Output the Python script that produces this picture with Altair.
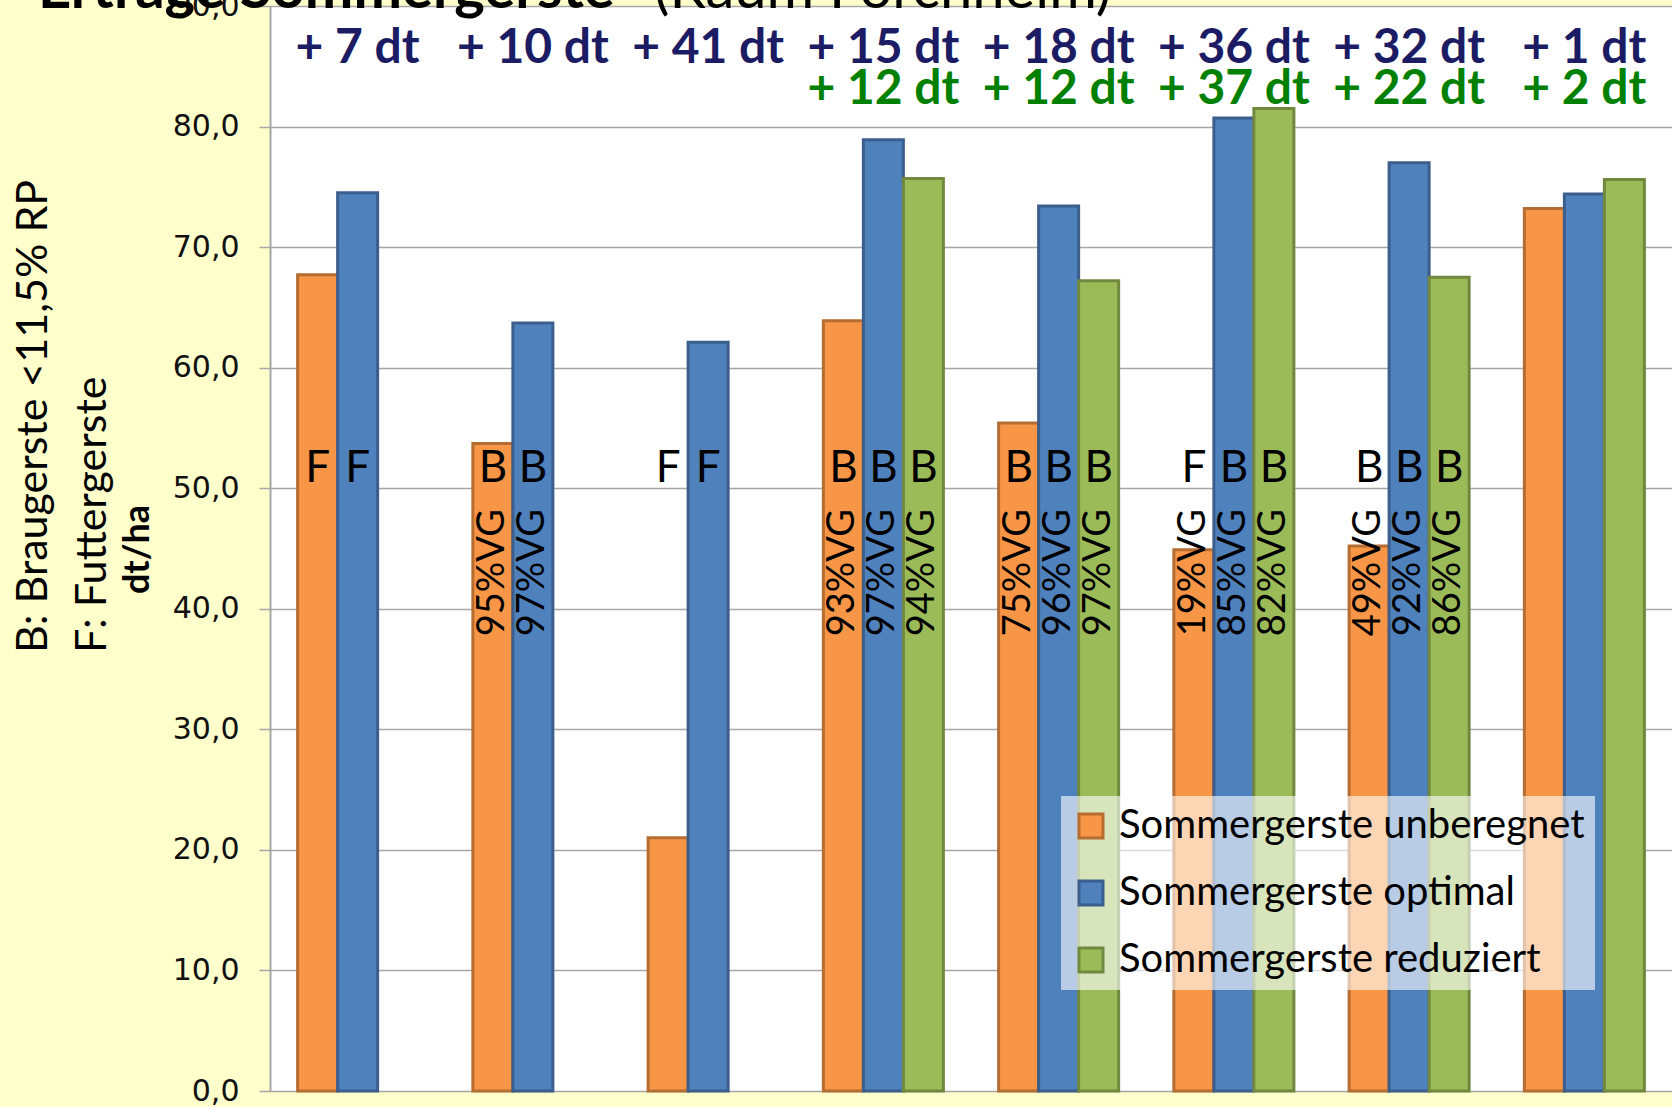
import altair as alt
import pandas as pd

# Yield of spring barley per site / treatment, dt/ha
groups = ["1", "2", "3", "4", "5", "6", "7", "8"]
series = ["Sommergerste unberegnet", "Sommergerste optimal", "Sommergerste reduziert"]

unberegnet = [67.7, 53.7, 21.0, 63.9, 55.4, 44.9, 45.2, 73.2]
optimal = [74.5, 63.7, 62.1, 78.9, 73.4, 80.7, 77.0, 74.4]
reduziert = [None, None, None, 75.7, 67.2, 81.5, 67.5, 75.6]

# quality class: B = Braugerste, F = Futtergerste
klasse_unberegnet = ["F", "B", "F", "B", "B", "F", "B", None]
klasse_optimal = ["F", "B", "F", "B", "B", "B", "B", None]
klasse_reduziert = [None, None, None, "B", "B", "B", "B", None]

vg_unberegnet = [None, "95%VG", None, "93%VG", "75%VG", "19%VG", "49%VG", None]
vg_optimal = [None, "97%VG", None, "97%VG", "96%VG", "85%VG", "92%VG", None]
vg_reduziert = [None, None, None, "94%VG", "97%VG", "82%VG", "86%VG", None]

fill_colors = ["#F79646", "#4F81BD", "#9BBB59"]
stroke_colors = ["#B66D31", "#3B5E8C", "#71893F"]

rows = []
for s, vals, kl, vg in zip(series,
                           [unberegnet, optimal, reduziert],
                           [klasse_unberegnet, klasse_optimal, klasse_reduziert],
                           [vg_unberegnet, vg_optimal, vg_reduziert]):
    for g, v, k, q in zip(groups, vals, kl, vg):
        rows.append({"group": g, "series": s, "value": v, "klasse": k, "vg": q})
df = pd.DataFrame(rows)
bars_df = df.dropna(subset=["value"])
klasse_df = df.dropna(subset=["klasse"])
vg_df = df.dropna(subset=["vg"])

# yield gain over the unirrigated variant
gain_opt = []
gain_red = []
for g, u, o, r in zip(groups, unberegnet, optimal, reduziert):
    gain_opt.append({"group": g, "label": f"+ {int(round(o - u))} dt"})
    if r is not None:
        gain_red.append({"group": g, "label": f"+ {int(round(r - u))} dt"})
gain_opt_df = pd.DataFrame(gain_opt)
gain_red_df = pd.DataFrame(gain_red)

FONT = "Lato"
GRAY = "#A6A6A6"

x_enc = alt.X("group:N", sort=groups,
              scale=alt.Scale(domain=groups, paddingInner=0.315, paddingOuter=0.1575),
              axis=None)
xoff_enc = alt.XOffset("series:N", scale=alt.Scale(domain=series, paddingInner=0, paddingOuter=0))
y_scale = alt.Scale(domain=[0, 90], nice=False, zero=True)

legend_cfg = alt.Legend(
    orient="none", legendX=791, legendY=790, title=None,
    fillColor="rgba(255,255,255,0.6)", padding=10, rowPadding=27,
    symbolType="square", symbolSize=576, symbolStrokeWidth=3,
    labelFont=FONT, labelFontSize=40, labelColor="black", labelOffset=8,
    labelLimit=1000,
)

bars = alt.Chart(bars_df).mark_bar(strokeWidth=3).encode(
    x=alt.X("group:N", sort=groups,
            scale=alt.Scale(domain=groups, paddingInner=0.315, paddingOuter=0.1575),
            axis=alt.Axis(title=None, labels=False, ticks=True, tickBand="extent",
                          tickSize=11, tickColor=GRAY, tickWidth=1.5,
                          domainColor=GRAY, domainWidth=2, grid=False)),
    xOffset=xoff_enc,
    y=alt.Y("value:Q", scale=y_scale,
            axis=alt.Axis(values=list(range(0, 91, 10)),
                          labelExpr="replace(format(datum.value, '.1f'), '.', ',')",
                          labelFont="DejaVu Sans", labelFontSize=30, labelColor="#111111",
                          labelPadding=20, tickSize=11, tickColor=GRAY, tickWidth=1.5,
                          domainColor=GRAY, domainWidth=2,
                          grid=True, gridColor=GRAY, gridWidth=1.5,
                          title="dt/ha", titleFont=FONT, titleFontSize=36,
                          titleFontWeight="bold", titleColor="black",
                          titleAngle=270, titleAlign="center", titleBaseline="middle",
                          titleX=-133, titleY=543)),
    fill=alt.Fill("series:N", scale=alt.Scale(domain=series, range=fill_colors), legend=legend_cfg),
    stroke=alt.Stroke("series:N", scale=alt.Scale(domain=series, range=stroke_colors), legend=legend_cfg),
)

klasse_text = alt.Chart(klasse_df).mark_text(
    font=FONT, fontSize=44, color="black", baseline="middle", align="center"
).encode(
    x=x_enc, xOffset=xoff_enc,
    y=alt.datum(51.6, scale=y_scale),
    text="klasse:N",
)

vg_text = alt.Chart(vg_df).mark_text(
    font=FONT, fontSize=38, color="black", baseline="middle", align="center", angle=270
).encode(
    x=x_enc, xOffset=xoff_enc,
    y=alt.datum(43.0, scale=y_scale),
    text="vg:N",
)

gain_opt_text = alt.Chart(gain_opt_df).mark_text(
    font=FONT, fontSize=48, fontWeight="bold", color="#1C1C64", baseline="middle"
).encode(
    x=x_enc, y=alt.datum(86.4, scale=y_scale), text="label:N",
)

gain_red_text = alt.Chart(gain_red_df).mark_text(
    font=FONT, fontSize=48, fontWeight="bold", color="#008000", baseline="middle"
).encode(
    x=x_enc, y=alt.datum(83.0, scale=y_scale), text="label:N",
)

side_df = pd.DataFrame({"t": ["B: Braugerste <11,5% RP", "F: Futtergerste"], "px": [-236, -177]})
side_text = alt.Chart(side_df).mark_text(
    font=FONT, fontSize=43, color="black", angle=270, align="left", baseline="middle"
).encode(
    x=alt.X("px:Q", scale=None), y=alt.value(647), text="t:N",
)

title_bold = alt.Chart(pd.DataFrame({"t": ["Erträge Sommergerste"]})).mark_text(
    font=FONT, fontSize=58, fontWeight="bold", color="black", align="left", baseline="alphabetic"
).encode(x=alt.value(-232), y=alt.value(2), text="t:N")

title_reg = alt.Chart(pd.DataFrame({"t": ["(Raum Forchheim)"]})).mark_text(
    font=FONT, fontSize=58, color="black", align="left", baseline="alphabetic"
).encode(x=alt.value(384), y=alt.value(2), text="t:N")

chart = alt.layer(
    bars, klasse_text, vg_text, gain_opt_text, gain_red_text, side_text, title_bold, title_reg
).properties(
    width=1402, height=1085,
    autosize=alt.AutoSizeParams(type="none"),
    padding={"left": 270, "top": 6, "right": 0, "bottom": 16},
    background="#FFFFCC",
).configure_view(fill="white", stroke=None)

chart.save("out.html", embed_options={"renderer": "svg", "actions": False})
